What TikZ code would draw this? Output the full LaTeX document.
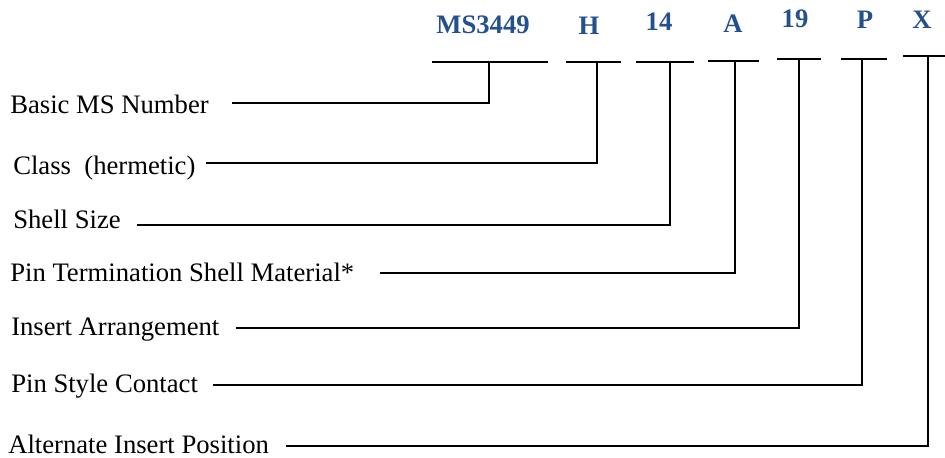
\documentclass[tikz,border=0pt]{standalone}
\usepackage{fontspec}
\setmainfont{Liberation Serif}
\definecolor{hdr}{HTML}{24508E}
\begin{document}
\begin{tikzpicture}[x=0.75pt,y=-0.75pt,
  lbl/.style={anchor=base west,inner sep=0pt,font=\fontsize{20}{24}\selectfont},
  hd/.style={anchor=base,inner sep=0pt,text=hdr,font=\fontsize{20}{24}\selectfont\bfseries},
  ln/.style={line width=1.7pt,line join=miter}]
\useasboundingbox (0,0) rectangle (945,457);
% headers
\node[hd] (hMS) at (483,33) {MS3449};
\node[hd] (hH) at (589,34) {H};
\node[hd] (h14) at (659,30) {14};
\node[hd] (hA) at (733,32) {A};
\node[hd] (h19) at (795,27) {19};
\node[hd] (hP) at (865,28) {P};
\node[hd] (hX) at (922,28) {X};
% labels
\node[lbl] (l1) at (10,113) {Basic MS Number};
\node[lbl] (l2) at (13,174) {Class\ \ (hermetic)};
\node[lbl] (l3) at (13,228) {Shell Size};
\node[lbl] (l4) at (10,281) {Pin Termination Shell Material*};
\node[lbl] (l5) at (11,335) {Insert Arrangement};
\node[lbl] (l6) at (11,392) {Pin Style Contact};
\node[lbl] (l7) at (8,453) {Alternate Insert Position};
% bars
\coordinate (b1l) at (432,62); \coordinate (b1r) at (548,62); \coordinate (t1) at (489,62);
\coordinate (b2l) at (566,62); \coordinate (b2r) at (621,62); \coordinate (t2) at (597,62);
\coordinate (b3l) at (636,62); \coordinate (b3r) at (694,62); \coordinate (t3) at (670,62);
\coordinate (b4l) at (708,61); \coordinate (b4r) at (759,61); \coordinate (t4) at (735,61);
\coordinate (b5l) at (777,59); \coordinate (b5r) at (821,59); \coordinate (t5) at (799,59);
\coordinate (b6l) at (841,59); \coordinate (b6r) at (887,59); \coordinate (t6) at (862,59);
\coordinate (b7l) at (903,56); \coordinate (b7r) at (945,56); \coordinate (t7) at (928,56);
\foreach \i in {1,...,7} {\draw[ln] (b\i l) -- (b\i r);}
% connector starts
\coordinate (s1) at (232,103);
\coordinate (s2) at (206,163);
\coordinate (s3) at (137,225);
\coordinate (s4) at (380,273);
\coordinate (s5) at (236,328);
\coordinate (s6) at (213,385);
\coordinate (s7) at (286,446);
\foreach \i in {1,...,7} {\draw[ln] (s\i) -| (t\i);}
\end{tikzpicture}
\end{document}
